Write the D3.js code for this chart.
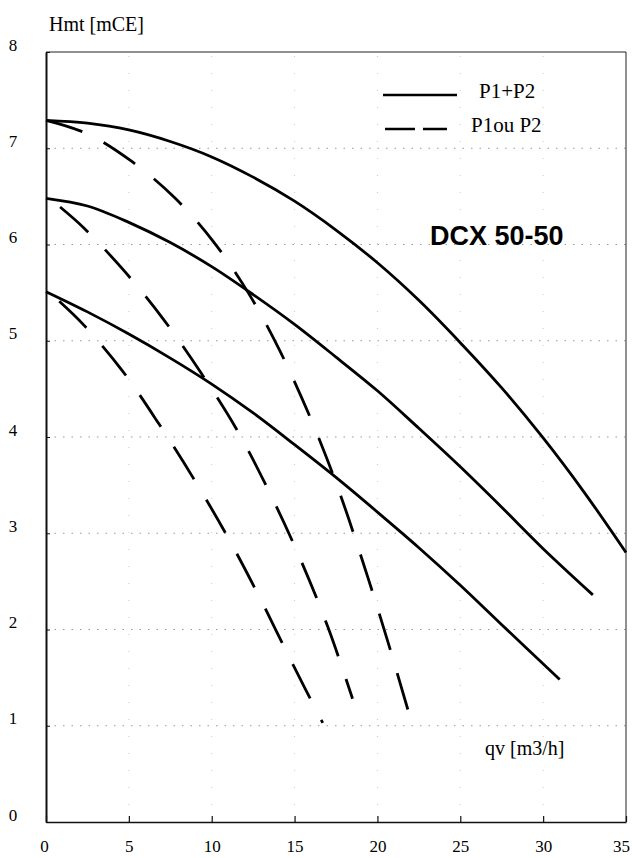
<!doctype html>
<html>
<head>
<style>
  body { margin: 0; background: #fff; }
  svg text { fill: #000; }
</style>
<script src="https://d3js.org/d3.v7.min.js"></script>
</head>
<body>
<svg id="chart" width="632" height="858"></svg>
<script>
// ticks
var xTicks = [0, 5, 10, 15, 20, 25, 30, 35];
var yTicks = [0, 1, 2, 3, 4, 5, 6, 7, 8];

// P1+P2 curves (qv, Hmt)
var solidHigh = [[0,7.29],[2.5,7.26],[5,7.19],[7.5,7.07],[10,6.91],[12.5,6.70],[15,6.45],[17.5,6.15],[20,5.81],[22.5,5.42],[25,4.98],[27.5,4.51],[30,3.99],[32.5,3.42],[35,2.8]];
var solidMid  = [[0,6.48],[2.5,6.40],[5,6.23],[7.5,6.02],[10,5.77],[12.5,5.48],[15,5.17],[17.5,4.83],[20,4.48],[22.5,4.09],[25,3.69],[27.5,3.27],[30,2.84],[33,2.36]];
var solidLow  = [[0,5.51],[2.5,5.30],[5,5.07],[7.5,4.82],[10,4.55],[12.5,4.25],[15,3.92],[17.5,3.58],[20,3.22],[22.5,2.85],[25,2.46],[27.5,2.05],[31,1.48]];

// P1 ou P2 curves
var dashHigh = [[0,7.29],[2.5,7.15],[5.2,6.86],[7.8,6.48],[10.1,6.03],[12.2,5.5],[14.1,4.9],[16.1,4.14],[17.7,3.43],[19.2,2.66],[20.6,1.89],[21.9,1.13]];
var dashMid  = [[0.85,6.39],[2.3,6.17],[4.8,5.71],[7.1,5.22],[9.3,4.68],[11.5,4.08],[13.3,3.49],[15.2,2.79],[17.0,2.03],[18.5,1.28]];
var dashLow  = [[0.8,5.41],[2.3,5.16],[4.6,4.69],[6.8,4.14],[8.9,3.57],[11.0,2.95],[12.9,2.33],[14.8,1.67],[16.7,1.03]];

var svg = d3.select("#chart");
var x = d3.scaleLinear().domain([0, 35]).range([46, 626]);
var y = d3.scaleLinear().domain([0, 8]).range([822, 52]);

// grid
svg.append("g").selectAll("line")
  .data(yTicks.filter(function(d){ return d > 0 && d < 8; }))
  .enter().append("line")
  .attr("x1", x(0)).attr("x2", x(35))
  .attr("y1", function(d){ return y(d); }).attr("y2", function(d){ return y(d); })
  .attr("stroke", "#999").attr("stroke-width", 1)
  .attr("stroke-dasharray", "1.5,7");

svg.append("g").selectAll("line")
  .data(xTicks.filter(function(d){ return d > 0 && d < 35; }))
  .enter().append("line")
  .attr("x1", function(d){ return x(d); }).attr("x2", function(d){ return x(d); })
  .attr("y1", y(0)).attr("y2", y(8))
  .attr("stroke", "#ccc").attr("stroke-width", 1)
  .attr("stroke-dasharray", "1,16");

// frame
svg.append("line").attr("x1", x(0)).attr("x2", x(35)).attr("y1", y(8)).attr("y2", y(8))
  .attr("stroke", "#222").attr("stroke-width", 1);
svg.append("line").attr("x1", x(35)).attr("x2", x(35)).attr("y1", y(8)).attr("y2", y(0))
  .attr("stroke", "#222").attr("stroke-width", 1);

// axes
var xAxis = svg.append("g")
  .attr("transform", "translate(0," + y(0) + ")")
  .call(d3.axisBottom(x).tickValues(xTicks).tickSizeInner(-6).tickSizeOuter(0));
xAxis.select(".domain").attr("stroke", "#111").attr("stroke-width", 1.5);
xAxis.selectAll(".tick line").attr("stroke", "#111").attr("stroke-width", 1.2);
xAxis.selectAll("text")
  .attr("y", 30).attr("dy", 0)
  .attr("x", function(d){ return d === 35 ? -5 : (d === 0 ? -2 : 0); })
  .attr("font-family", "Liberation Serif").attr("font-size", 17).attr("fill", "#000");

var yAxis = svg.append("g")
  .attr("transform", "translate(" + x(0) + ",0)")
  .call(d3.axisLeft(y).tickValues(yTicks).tickSizeInner(-4).tickSizeOuter(0));
yAxis.select(".domain").attr("stroke", "#111").attr("stroke-width", 2);
yAxis.selectAll(".tick line").attr("stroke", "#111");
yAxis.selectAll("text")
  .attr("x", -33).attr("dy", -2).attr("text-anchor", "middle")
  .attr("font-family", "Liberation Serif").attr("font-size", 17).attr("fill", "#000");

// curves
var line = d3.line()
  .x(function(d){ return x(d[0]); })
  .y(function(d){ return y(d[1]); })
  .curve(d3.curveCatmullRom.alpha(0.5));

[solidHigh, solidMid, solidLow].forEach(function(s) {
  svg.append("path").datum(s).attr("d", line)
    .attr("fill", "none").attr("stroke", "#000").attr("stroke-width", 2.8);
});
[dashHigh, dashMid, dashLow].forEach(function(s) {
  svg.append("path").datum(s).attr("d", line)
    .attr("fill", "none").attr("stroke", "#000").attr("stroke-width", 2.8)
    .attr("stroke-dasharray", "38,24");
});

// labels
svg.append("text").attr("x", 49).attr("y", 31)
  .attr("font-family", "Liberation Serif").attr("font-size", 20)
  .text("Hmt [mCE]");
svg.append("text").attr("x", 485).attr("y", 755)
  .attr("font-family", "Liberation Serif").attr("font-size", 20)
  .text("qv [m3/h]");
svg.append("text").attr("x", 430).attr("y", 245)
  .attr("font-family", "Liberation Sans").attr("font-weight", "bold").attr("font-size", 27)
  .text("DCX 50-50");

// legend
svg.append("line").attr("x1", 383).attr("x2", 457).attr("y1", 95).attr("y2", 95)
  .attr("stroke", "#000").attr("stroke-width", 2.5);
svg.append("line").attr("x1", 385).attr("x2", 447).attr("y1", 129).attr("y2", 129)
  .attr("stroke", "#000").attr("stroke-width", 2.5).attr("stroke-dasharray", "30,8");
svg.append("text").attr("x", 479).attr("y", 98)
  .attr("font-family", "Liberation Serif").attr("font-size", 21)
  .text("P1+P2");
svg.append("text").attr("x", 471).attr("y", 132)
  .attr("font-family", "Liberation Serif").attr("font-size", 21)
  .text("P1ou P2");
</script>
</body>
</html>
